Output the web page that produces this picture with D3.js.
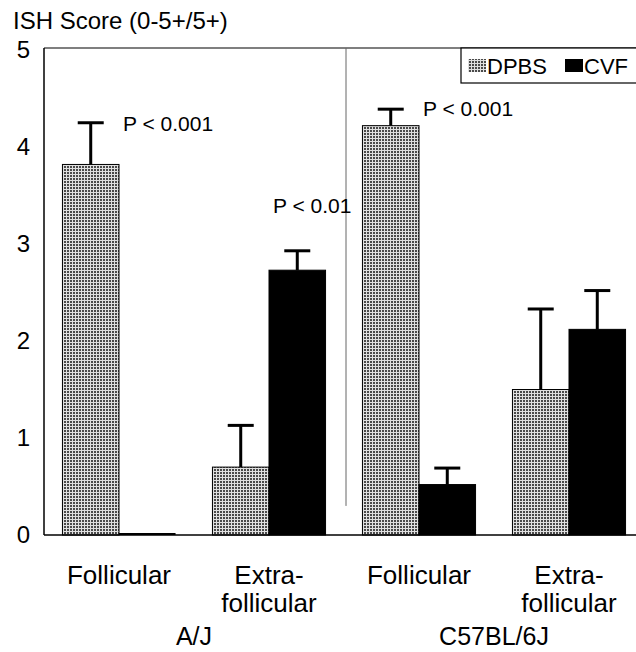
<!DOCTYPE html>
<html><head><meta charset="utf-8">
<script src="https://cdn.jsdelivr.net/npm/d3@7"></script>
<style>
html,body{margin:0;padding:0;background:#fff;}
svg{display:block;font-family:"Liberation Sans",Arial,Helvetica,sans-serif;}
</style></head>
<body><svg id="chart" width="636" height="652"></svg>
<script>
// ---- data ----
const groups = ["A/J", "C57BL/6J"];
const categories = ["A/J Follicular", "A/J Extra", "C57 Follicular", "C57 Extra"];
const categoryLabels = [["Follicular"], ["Extra-", "follicular"], ["Follicular"], ["Extra-", "follicular"]];
const categoryGroup = [0, 0, 1, 1];
const series = ["DPBS", "CVF"];
const dpbsValues = [3.82, 0.70, 4.22, 1.50];
const dpbsErrors = [0.43, 0.43, 0.17, 0.83];
const cvfValues = [0.0, 2.73, 0.52, 2.12];
const cvfErrors = [0.0, 0.20, 0.17, 0.40];
const yTicks = [0, 1, 2, 3, 4, 5];
const annotations = [
  {cat: 0, text: "P < 0.001", value: 4.25},
  {cat: 1, text: "P < 0.01", value: 3.4},
  {cat: 2, text: "P < 0.001", value: 4.4}
];
const yTitle = "ISH Score (0-5+/5+)";

// ---- layout ----
const svg = d3.select("#chart");
const x0 = 44, x1 = 644, yBottom = 535, yTop = 50;
const x = d3.scaleBand().domain(categories).range([x0, x1]).paddingInner(0.246).paddingOuter(0.123);
const xs = d3.scaleBand().domain(series).range([0, x.bandwidth()]);
const y = d3.scaleLinear().domain([0, 5]).range([yBottom, yTop]);

// pattern
const defs = svg.append("defs");
const pat = defs.append("pattern").attr("id", "hatch").attr("patternUnits", "userSpaceOnUse")
  .attr("width", 3).attr("height", 3);
pat.append("rect").attr("width", 3).attr("height", 3).attr("fill", "#4a4a4a");
pat.append("rect").attr("x", 0).attr("y", 0).attr("width", 3).attr("height", 1).attr("fill", "#e0e0e0");
pat.append("rect").attr("x", 0).attr("y", 0).attr("width", 1).attr("height", 3).attr("fill", "#e0e0e0");

const fills = {DPBS: "url(#hatch)", CVF: "#000"};

// frame top line
svg.append("line").attr("x1", x0).attr("x2", 636).attr("y1", y(5) - 2).attr("y2", y(5) - 2)
  .attr("stroke", "#000").attr("stroke-width", 1.2);

// divider
const divX = (x(categories[1]) + x.bandwidth() + x(categories[2])) / 2 + 2;
svg.append("line").attr("x1", divX).attr("x2", divX)
  .attr("y1", y(5) - 2).attr("y2", y(0.3)).attr("stroke", "#666").attr("stroke-width", 1);

// bars
const rows = [];
categories.forEach((c, i) => {
  rows.push({cat: c, s: "DPBS", v: dpbsValues[i], e: dpbsErrors[i]});
  rows.push({cat: c, s: "CVF", v: cvfValues[i], e: cvfErrors[i]});
});
const g = svg.append("g");
g.selectAll("rect.bar").data(rows).join("rect").attr("class", "bar")
  .attr("x", d => x(d.cat) + xs(d.s))
  .attr("width", xs.bandwidth())
  .attr("y", d => y(d.v))
  .attr("height", d => Math.max(0, y(0) - y(d.v)))
  .attr("fill", d => fills[d.s])
  .attr("stroke", "#000").attr("stroke-width", 1);
g.selectAll("line.zero").data(rows.filter(d => d.v === 0)).join("line").attr("class", "zero")
  .attr("x1", d => x(d.cat) + xs(d.s)).attr("x2", d => x(d.cat) + xs(d.s) + xs.bandwidth())
  .attr("y1", y(0) - 1).attr("y2", y(0) - 1).attr("stroke", "#000").attr("stroke-width", 2);

// error bars
const eb = rows.filter(d => d.e > 0);
g.selectAll("line.ev").data(eb).join("line").attr("class", "ev")
  .attr("x1", d => x(d.cat) + xs(d.s) + xs.bandwidth() / 2)
  .attr("x2", d => x(d.cat) + xs(d.s) + xs.bandwidth() / 2)
  .attr("y1", d => y(d.v)).attr("y2", d => y(d.v + d.e))
  .attr("stroke", "#000").attr("stroke-width", 3);
g.selectAll("line.ec").data(eb).join("line").attr("class", "ec")
  .attr("x1", d => x(d.cat) + xs(d.s) + xs.bandwidth() / 2 - 13)
  .attr("x2", d => x(d.cat) + xs(d.s) + xs.bandwidth() / 2 + 13)
  .attr("y1", d => y(d.v + d.e)).attr("y2", d => y(d.v + d.e))
  .attr("stroke", "#000").attr("stroke-width", 3);

// y axis
const yAxis = d3.axisLeft(y).tickValues(yTicks).tickSize(0).tickPadding(14).tickFormat(d3.format("d"));
const ya = svg.append("g").attr("transform", `translate(${x0},0)`).call(yAxis);
ya.select(".domain").attr("stroke", "#000").attr("stroke-width", 1.5).attr("d", `M0,${y(5) - 2}V${y(0)}`);
ya.selectAll("text").attr("font-size", 24).attr("fill", "#000").attr("font-family", "Liberation Sans, Arial, sans-serif");

// baseline
svg.append("line").attr("x1", x0).attr("x2", 636).attr("y1", y(0)).attr("y2", y(0))
  .attr("stroke", "#000").attr("stroke-width", 1.5);

// x category labels
const xa = svg.append("g");
categories.forEach((c, i) => {
  const cx = x(c) + x.bandwidth() / 2;
  const t = xa.append("text").attr("x", cx).attr("y", 584)
    .attr("text-anchor", "middle").attr("font-size", 26).attr("fill", "#000");
  categoryLabels[i].forEach((ln, j) => {
    t.append("tspan").attr("x", cx).attr("dy", j === 0 ? 0 : 28).text(ln);
  });
});
// group labels
groups.forEach((gname, gi) => {
  const cs = categories.filter((c, i) => categoryGroup[i] === gi);
  const cx = (x(cs[0]) + x(cs[cs.length - 1]) + x.bandwidth()) / 2;
  svg.append("text").attr("x", cx).attr("y", 645).attr("text-anchor", "middle")
    .attr("font-size", 25).attr("fill", "#000").text(gname);
});

// title
svg.append("text").attr("x", 13).attr("y", 29).attr("font-size", 24).attr("fill", "#000").text(yTitle);

// annotations
annotations.forEach(a => {
  svg.append("text").attr("x", x(categories[a.cat]) + x.bandwidth() / 2 + 4).attr("y", y(a.value) + 8)
    .attr("font-size", 21).attr("fill", "#000").text(a.text);
});

// legend
const lg = svg.append("g");
lg.append("rect").attr("x", 461).attr("y", y(5) - 2).attr("width", 200).attr("height", 35)
  .attr("fill", "#fff").attr("stroke", "#000").attr("stroke-width", 1.2);
series.forEach((s, i) => {
  const lx = 468 + i * 97;
  lg.append("rect").attr("x", lx).attr("y", 59).attr("width", 18).attr("height", 13)
    .attr("fill", fills[s]);
  lg.append("text").attr("x", lx + 19).attr("y", 74).attr("font-size", 22).attr("fill", "#000").text(s);
});
</script></body></html>
